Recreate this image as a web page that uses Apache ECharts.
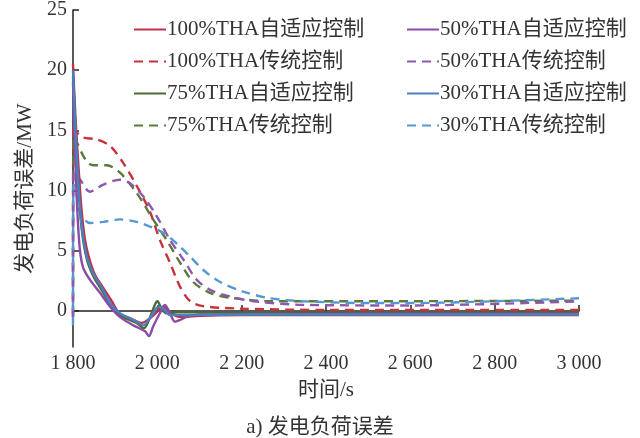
<!DOCTYPE html>
<html>
<head>
<meta charset="utf-8">
<script src="https://cdn.jsdelivr.net/npm/echarts@6/dist/echarts.min.js"></script>
<style>
html,body{margin:0;padding:0;background:#fff;}
#main{width:640px;height:438px;}
</style>
</head>
<body>
<div id="main"></div>
<script>
// ---- data ----
var xTicks = [1800, 2000, 2200, 2400, 2600, 2800, 3000];
var xTickLabels = ['1 800', '2 000', '2 200', '2 400', '2 600', '2 800', '3 000'];
var yTicks = [0, 5, 10, 15, 20, 25];

var seriesNames = [
  '100%THA自适应控制', '100%THA传统控制',
  '75%THA自适应控制', '75%THA传统控制',
  '50%THA自适应控制', '50%THA传统控制',
  '30%THA自适应控制', '30%THA传统控制'
];

var adapt100 = [[1800,20.5],[1806,16],[1813,12],[1820,8.5],[1828,6.0],[1838,4.4],[1852,3.0],[1872,1.9],[1892,0.8],[1910,-0.2],[1935,-0.6],[1963,-1.0],[1983,-0.6],[2000,-0.05],[2014,0.35],[2030,-0.1],[2046,-0.45],[2062,-0.5],[2100,-0.4],[2200,-0.35],[3000,-0.35]];
var trad100 = [[1800,-0.5],[1801,15.5],[1810,14.8],[1824,14.4],[1856,14.25],[1888,13.7],[1919,12.3],[1951,10.4],[1983,8.2],[2006,5.9],[2030,4.0],[2054,2.0],[2078,0.8],[2109,0.4],[2188,0.2],[2400,0.08],[3000,0.08]];
var adapt75 = [[1800,19.5],[1806,15],[1812,11],[1820,7],[1832,4.4],[1848,2.9],[1872,1.5],[1896,0.1],[1919,-0.5],[1951,-1.0],[1968,-1.45],[1983,-0.5],[1994,0.5],[2000,0.8],[2010,0.2],[2022,-0.2],[2054,-0.1],[2200,-0.15],[3000,-0.15]];
var trad75 = [[1800,-0.3],[1801,14.5],[1812,13.8],[1824,12.9],[1836,12.3],[1848,12.1],[1880,12.1],[1911,11.5],[1951,9.8],[1990,7.6],[2022,5.9],[2054,4.0],[2085,2.4],[2125,1.5],[2172,1.1],[2267,0.8],[2500,0.8],[3000,0.85]];
var adapt50 = [[1800,19],[1805,13],[1810,8.5],[1816,5.2],[1824,3.6],[1840,2.6],[1864,1.5],[1888,0.35],[1911,-0.5],[1943,-1.2],[1971,-1.7],[1980,-2.1],[1990,-1.3],[2006,-0.2],[2018,0.5],[2030,-0.2],[2042,-0.9],[2054,-0.75],[2070,-0.5],[2100,-0.3],[3000,-0.25]];
var trad50 = [[1800,-0.5],[1801,11.5],[1810,11.2],[1817,10.9],[1840,9.9],[1872,10.5],[1911,10.9],[1935,10.6],[1967,9.5],[1998,7.9],[2030,5.9],[2062,4.25],[2093,2.6],[2125,1.75],[2172,1.2],[2228,0.8],[2346,0.5],[2600,0.45],[3000,0.8]];
var adapt30 = [[1800,20],[1806,15],[1812,11],[1820,7.2],[1832,4.6],[1848,3.1],[1872,1.7],[1888,0.65],[1911,-0.2],[1943,-0.75],[1967,-1.2],[1979,-0.75],[1990,-0.2],[2002,0.35],[2014,0.2],[2030,-0.35],[2046,-0.35],[2200,-0.3],[3000,-0.3]];
var trad30 = [[1800,-1.2],[1801,10.5],[1805,10.4],[1817,8.1],[1840,7.3],[1872,7.4],[1911,7.6],[1951,7.4],[1983,7.0],[2014,6.5],[2046,5.6],[2078,4.5],[2109,3.4],[2149,2.4],[2204,1.6],[2267,1.05],[2346,0.8],[2500,0.65],[2700,0.7],[3000,1.05]];

var seriesData = [adapt100, trad100, adapt75, trad75, adapt50, trad50, adapt30, trad30];
var seriesColors = ['#c0304a', '#c8323f', '#4b6a30', '#5a7a3a', '#8a4ca6', '#8c58b0', '#4a80c2', '#5698d2'];

var FONT = "'Liberation Serif', 'Noto Sans CJK SC', serif";

var series = seriesData.map(function (d, i) {
  var dashed = (i % 2 === 1);
  return {
    name: seriesNames[i],
    type: 'line',
    data: d,
    symbol: 'none',
    smooth: 0.3,
    z: dashed ? 2 : 3,
    lineStyle: { color: seriesColors[i], width: 2.4, type: dashed ? [9, 6] : 'solid' },
    itemStyle: { color: seriesColors[i] }
  };
});

var legendBase = {
  top: 14, orient: 'vertical',
  itemWidth: 32, itemHeight: 14, itemGap: 11,
  itemStyle: { opacity: 0, borderWidth: 0 },
  textStyle: { fontFamily: FONT, fontSize: 21, color: '#333', padding: [0, 0, 0, -4] }
};

var chart = echarts.init(document.getElementById('main'), null, { renderer: 'canvas' });
chart.setOption({
  backgroundColor: '#ffffff',
  animation: false,
  title: {
    text: 'a) 发电负荷误差',
    left: 'center',
    top: 412,
    textStyle: { fontFamily: FONT, fontSize: 21, fontWeight: 'normal', color: '#333' }
  },
  legend: [
    Object.assign({}, legendBase, { left: 128, data: seriesNames.slice(0, 4) }),
    Object.assign({}, legendBase, { left: 401, data: seriesNames.slice(4, 8) })
  ],
  grid: { left: 73, right: 61, top: 10, bottom: 91, containLabel: false },
  xAxis: {
    type: 'value',
    min: 1800, max: 3000, interval: 200,
    name: '时间/s',
    nameLocation: 'middle',
    nameGap: 33,
    nameTextStyle: { fontFamily: FONT, fontSize: 21, color: '#333' },
    splitLine: { show: false },
    axisLine: { lineStyle: { color: '#222', width: 1.5 } },
    axisTick: { inside: true, length: 6, lineStyle: { color: '#222', width: 1.5 } },
    axisLabel: {
      fontFamily: FONT, fontSize: 20, color: '#333', margin: 7,
      formatter: function (v) { var k = xTicks.indexOf(v); return k >= 0 ? xTickLabels[k] : ''; }
    }
  },
  yAxis: {
    type: 'value',
    min: -3, max: 25,
    name: '发电负荷误差/MW',
    nameLocation: 'middle',
    nameGap: 36,
    nameRotate: 90,
    nameTextStyle: { fontFamily: FONT, fontSize: 21, color: '#333', padding: [0, 20, 0, 0] },
    splitLine: { show: false },
    axisLine: { show: true, lineStyle: { color: '#222', width: 1.5 } },
    axisTick: { show: true, inside: true, length: 6, customValues: yTicks, lineStyle: { color: '#222', width: 1.5 } },
    axisLabel: { fontFamily: FONT, fontSize: 20, color: '#333', margin: 6, customValues: yTicks }
  },
  series: series
});
</script>
</body>
</html>
